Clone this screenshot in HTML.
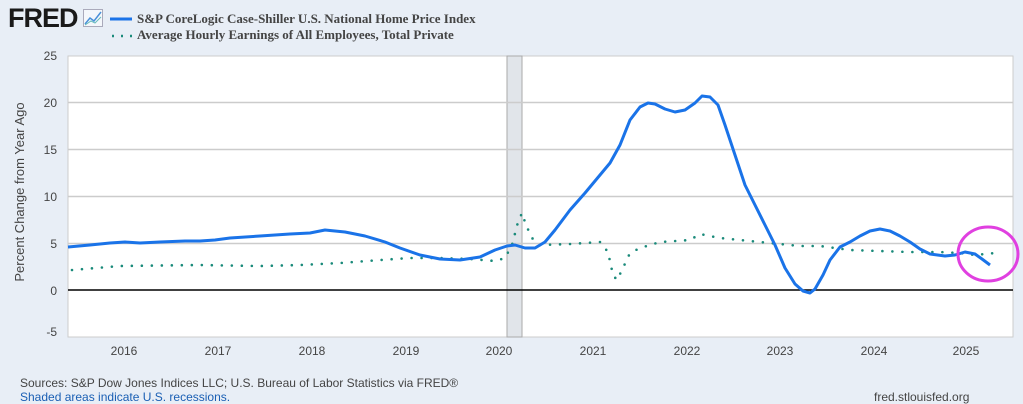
<!DOCTYPE html>
<html><head><style>
body{margin:0;width:1023px;height:404px;background:#e8eef6;font-family:"Liberation Sans",sans-serif;overflow:hidden;position:relative}
.t{position:absolute;white-space:nowrap}
</style></head><body>
<div class="t" style="left:8px;top:3px;font-size:27px;font-weight:bold;color:#1a1a1a;letter-spacing:-1px">FRED</div>
<svg class="t" style="left:83px;top:9px" width="20" height="18"><rect x="0.5" y="0.5" width="19" height="17" fill="#f4f7fb" stroke="#aab"/><polyline points="2,15 7,9 11,12 18,3" fill="none" stroke="#4a90d9" stroke-width="1.5"/><polyline points="2,16 8,12 12,14 18,8" fill="none" stroke="#6bb" stroke-width="1"/></svg>
<svg class="t" style="left:108px;top:10px" width="30" height="30"><line x1="2" y1="9" x2="24" y2="9" stroke="#1a73e8" stroke-width="3"/><line x1="4" y1="26" x2="26" y2="26" stroke="#1a8a7a" stroke-width="2.5" stroke-dasharray="2 7"/></svg>
<div class="t" style="left:137px;top:11px;font-family:'Liberation Serif',serif;font-weight:bold;font-size:13px;color:#444">S&amp;P CoreLogic Case-Shiller U.S. National Home Price Index</div>
<div class="t" style="left:137px;top:27px;font-family:'Liberation Serif',serif;font-weight:bold;font-size:13px;color:#444">Average Hourly Earnings of All Employees, Total Private</div>
<svg class="t" style="left:0;top:0" width="1023" height="404">
<rect x="68" y="56" width="945" height="281" fill="#fff" stroke="#ccc"/>
<rect x="507" y="56" width="15" height="281" fill="#e1e5ea" stroke="#aaa"/>
<g stroke="#ccc" stroke-width="1.5">
<line x1="68" y1="102.5" x2="1013" y2="102.5"/><line x1="68" y1="149.5" x2="1013" y2="149.5"/><line x1="68" y1="196.5" x2="1013" y2="196.5"/><line x1="68" y1="243.5" x2="1013" y2="243.5"/></g>
<line x1="68" y1="290" x2="1013" y2="290" stroke="#000" stroke-width="1.5"/>
<g font-size="12" fill="#444" text-anchor="end">
<text x="57" y="60">25</text><text x="57" y="107">20</text><text x="57" y="154">15</text><text x="57" y="201">10</text><text x="57" y="248">5</text><text x="57" y="295">0</text><text x="57" y="336">-5</text></g>
<g font-size="12" fill="#444" text-anchor="middle">
<text x="124" y="355">2016</text><text x="218" y="355">2017</text><text x="312" y="355">2018</text><text x="406" y="355">2019</text><text x="499" y="355">2020</text><text x="593" y="355">2021</text><text x="687" y="355">2022</text><text x="780" y="355">2023</text><text x="874" y="355">2024</text><text x="966" y="355">2025</text></g>
<text transform="translate(24,192) rotate(-90)" font-size="13" fill="#444" text-anchor="middle">Percent Change from Year Ago</text>
<polyline fill="none" stroke="#1a8a7a" stroke-width="2.6" stroke-linecap="round" stroke-dasharray="0 10" points="72,270 120,266 200,265 260,266 300,265 340,263 380,260 410,258 440,258 470,259 495,261 505,258 512,245 518,222 522,213 526,225 532,238 540,245 570,244 600,242 608,252 613,275 617,280 622,270 630,253 640,248 660,242 690,240 700,234 720,238 740,240 760,242 780,244 800,246 820,246 850,250 880,251 910,252 940,252 960,253 975,255 995,253"/>
<polyline fill="none" stroke="#1a73e8" stroke-width="3" stroke-linejoin="round" points="68,247 90,245 110,243 125,242 140,243 160,242 185,241 200,241 215,240 230,238 260,236 290,234 310,233 325,230 345,232 365,236 385,242 400,248 420,255 440,259 460,260 480,257 495,250 507,246 515,245 525,248 535,248 545,242 555,230 570,210 585,193 600,175 610,163 620,145 630,120 640,107 648,103 655,104 665,109 675,112 685,110 695,103 702,96 710,97 718,105 725,125 735,155 745,185 755,205 765,225 775,245 785,268 795,284 803,291 810,293 815,289 823,275 830,260 840,247 850,242 860,236 870,231 880,229 890,231 900,236 910,242 920,249 930,254 945,256 955,255 965,252 975,254 982,259 990,265"/>
<ellipse cx="988" cy="254" rx="30" ry="27" fill="none" stroke="#e040e0" stroke-width="3"/>
</svg>
<div class="t" style="left:20px;top:376px;font-size:12px;color:#444">Sources: S&amp;P Dow Jones Indices LLC; U.S. Bureau of Labor Statistics via FRED®</div>
<div class="t" style="left:20px;top:390px;font-size:12px;color:#1a5fb4">Shaded areas indicate U.S. recessions.</div>
<div class="t" style="left:874px;top:390px;font-size:12px;color:#444">fred.stlouisfed.org</div>
</body></html>
